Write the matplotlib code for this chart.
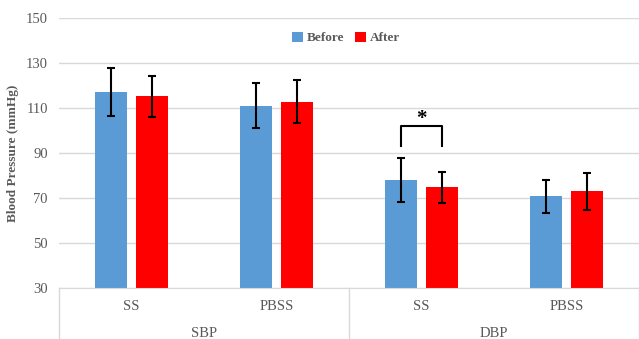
import matplotlib
matplotlib.use("Agg")
import matplotlib.pyplot as plt
import numpy as np

# data
categories = ["SS", "PBSS", "SS", "PBSS"]
groups = ["SBP", "DBP"]
before = [117, 111, 78, 70.8]
before_err = [10.6, 10, 9.6, 7.4]
after = [115.2, 112.8, 74.7, 72.9]
after_err = [9.2, 9.5, 7, 8.2]

serif = ["Liberation Serif", "DejaVu Serif"]
gray = "#595959"

fig = plt.figure(figsize=(6.39, 3.39), dpi=100)
ax = fig.add_axes([59 / 639, 1 - 288 / 339, 580 / 639, 270 / 339])

x = np.arange(len(categories))
w = 0.225
off = 0.142
ax.bar(x - off, before, w, color="#5B9BD5", label="Before", zorder=2)
ax.bar(x + off, after, w, color="#FF0000", label="After", zorder=2)
ax.errorbar(x - off, before, yerr=before_err, fmt="none", ecolor="black",
            elinewidth=1.5, capsize=3, capthick=1.5, zorder=3)
ax.errorbar(x + off, after, yerr=after_err, fmt="none", ecolor="black",
            elinewidth=1.5, capsize=3, capthick=1.5, zorder=3)

ax.set_xlim(-0.5, 3.5)
ax.set_ylim(30, 150)
ax.set_yticks(range(30, 151, 20))
ax.yaxis.grid(True, color="#d9d9d9", linewidth=1)
ax.set_axisbelow(True)
for s in ["top", "right", "left"]:
    ax.spines[s].set_visible(False)
ax.spines["bottom"].set_color("#d9d9d9")
ax.tick_params(axis="y", length=0, labelsize=10.5, labelcolor=gray, pad=8)
for t in ax.get_yticklabels():
    t.set_family(serif)
ax.set_xticks([])

# significance bracket on DBP SS
ax.plot([2 - off, 2 - off, 2 + off, 2 + off], [93.2, 102, 102, 93.2],
        color="black", linewidth=1.5, zorder=3)
ax.text(2, 100.8, "*", ha="center", va="bottom", fontsize=15,
        fontweight="bold", family=serif)

# category and group labels
tr = ax.get_xaxis_transform()
for i, c in enumerate(categories):
    ax.text(i, -0.07, c, transform=tr, ha="center", va="center",
            fontsize=10.5, color=gray, family=serif)
for j, g in enumerate(groups):
    ax.text(0.5 + 2 * j, -0.17, g, transform=tr, ha="center", va="center",
            fontsize=10.5, color=gray, family=serif)
for xv in [-0.5, 1.5, 3.5]:
    ax.plot([xv, xv], [0, -0.19], transform=tr, color="#d9d9d9",
            linewidth=1, clip_on=False)

ax.set_ylabel("Blood Pressure (mmHg)", fontsize=9.5, color=gray,
              family=serif, fontweight="bold", labelpad=5)

leg = ax.legend(loc="center", bbox_to_anchor=(0.495, 0.926), ncol=2,
                frameon=False, handlelength=0.8, handleheight=0.8,
                handletextpad=0.3, columnspacing=0.8,
                prop={"family": serif, "weight": "bold", "size": 9.5})
for t in leg.get_texts():
    t.set_color(gray)

fig.savefig("out.png", dpi=100)
